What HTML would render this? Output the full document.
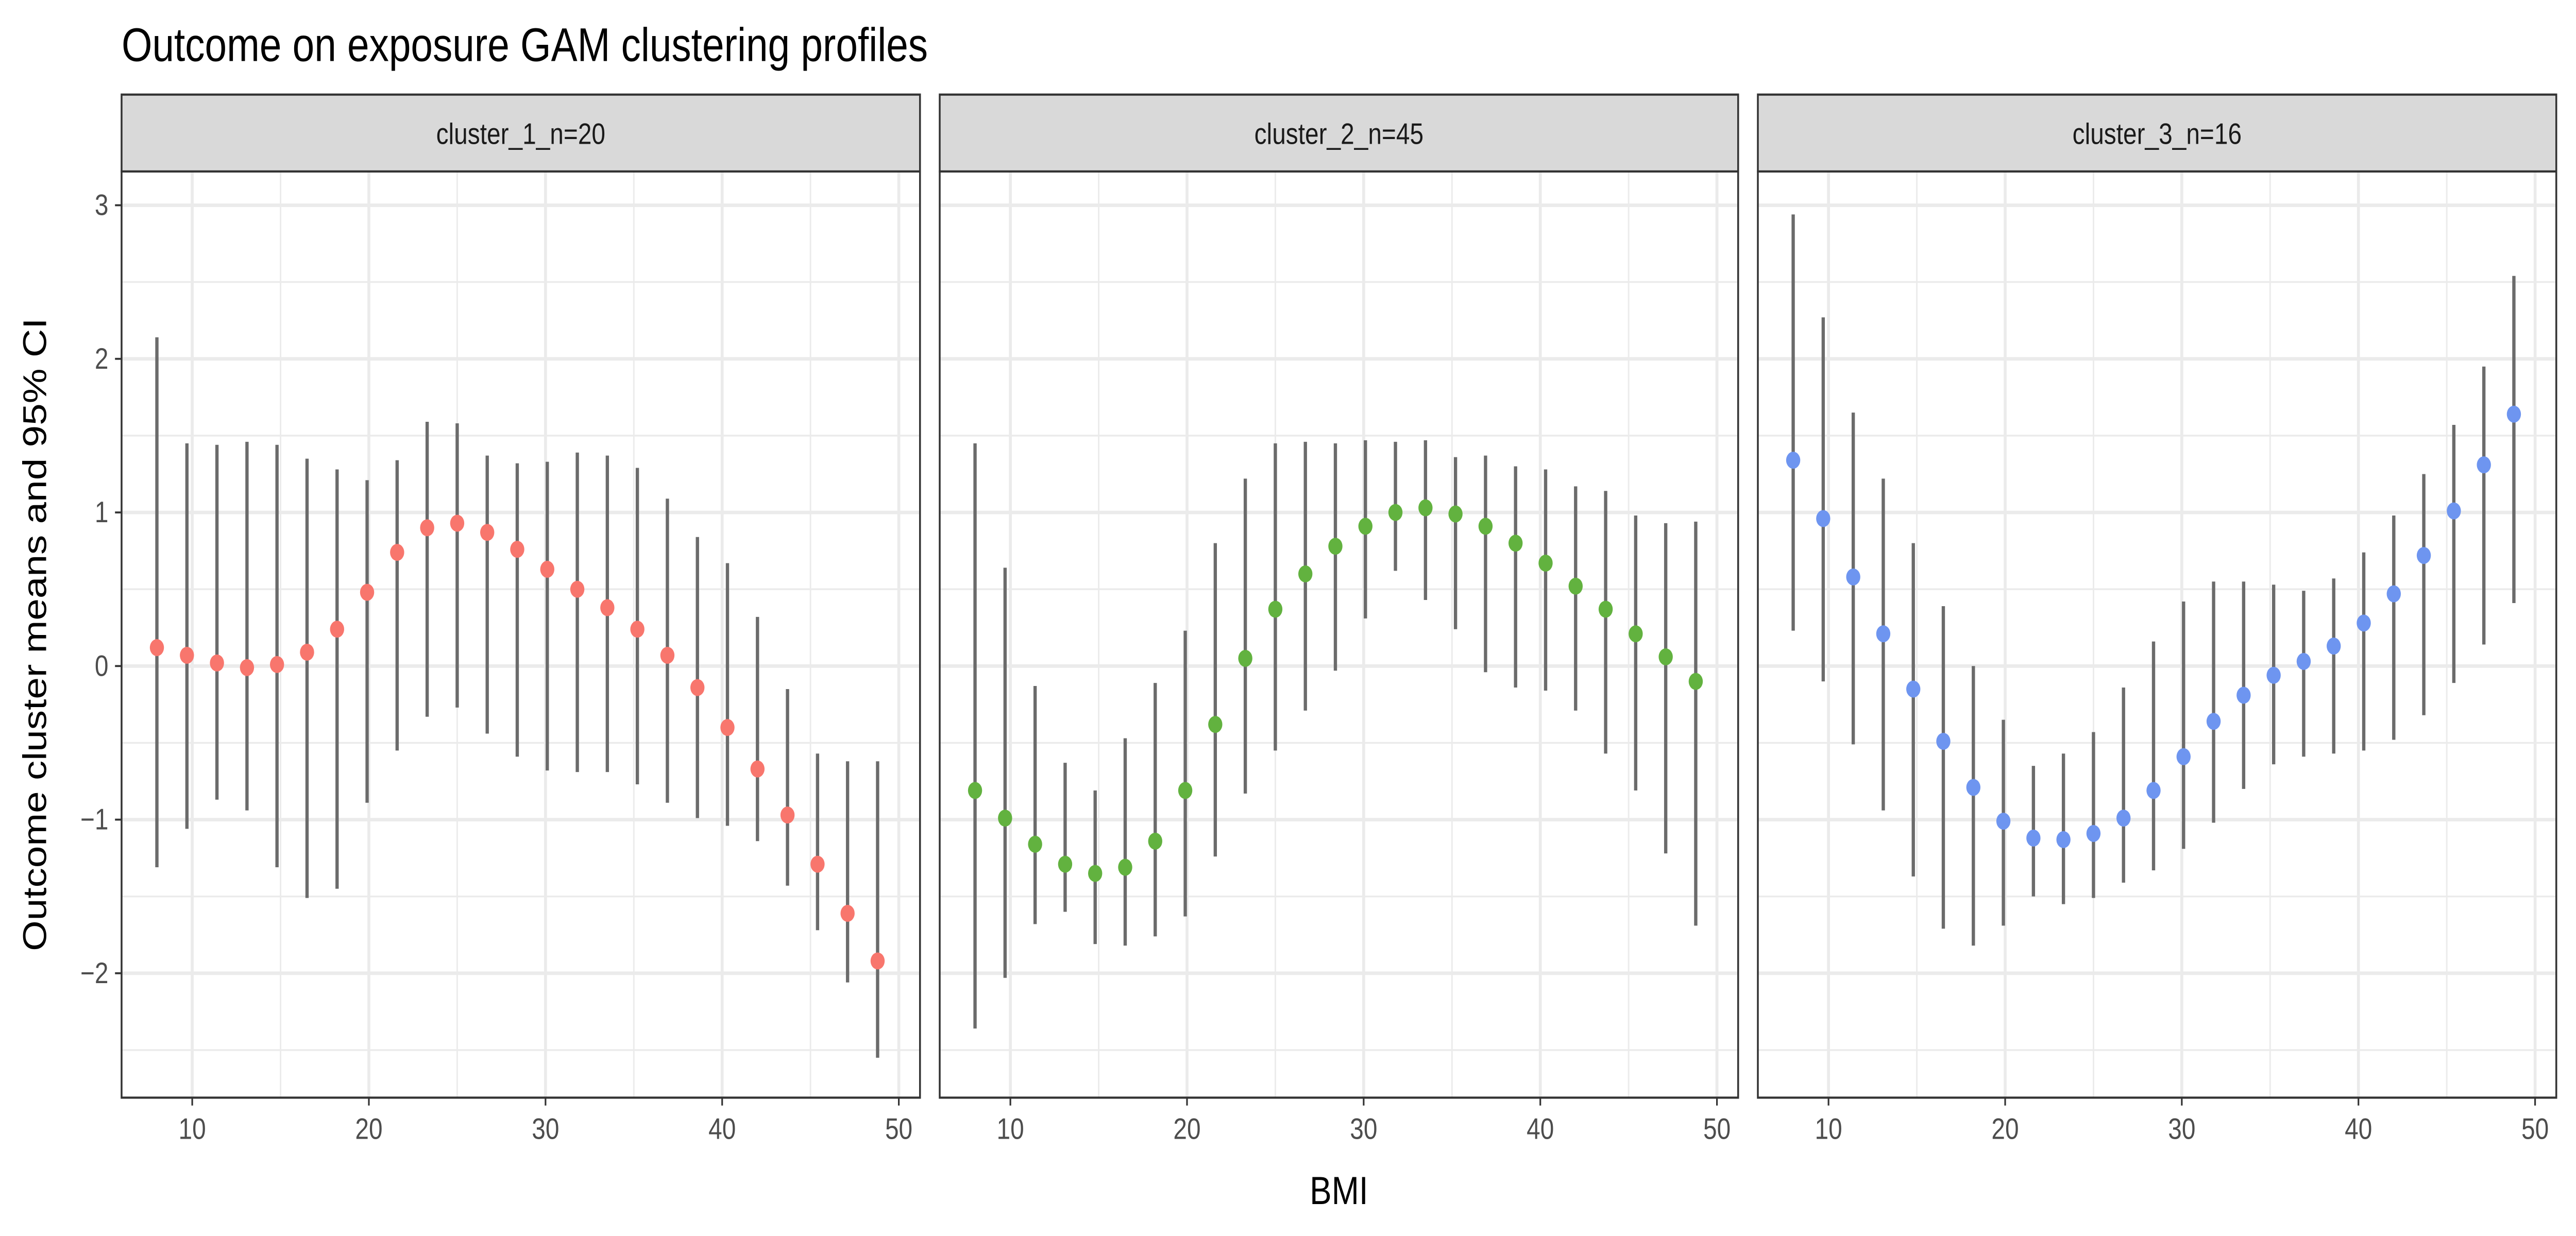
<!DOCTYPE html>
<html><head><meta charset="utf-8"><style>
html,body{margin:0;padding:0;background:#fff;overflow:hidden;width:100vw;height:100vh;}
svg{display:block;width:100vw;height:100vh;font-family:"Liberation Sans",Arial,sans-serif;}
</style></head><body>
<svg id="chart" viewBox="0 0 1568 627.2" preserveAspectRatio="none" xmlns="http://www.w3.org/2000/svg">
<text x="74" y="31" font-size="24" fill="#000">Outcome on exposure GAM clustering profiles</text>
<text transform="translate(28,322) rotate(-90)" text-anchor="middle" font-size="20" fill="#000">Outcome cluster means and 95% CI</text>
<text x="815" y="611" text-anchor="middle" font-size="20" fill="#000">BMI</text>
</svg>
<script>
const panelNames = ["cluster_1_n=20","cluster_2_n=45","cluster_3_n=16"];
const bmi = [8,9.7,11.4,13.1,14.8,16.5,18.2,19.9,21.6,23.3,25,26.7,28.4,30.1,31.8,33.5,35.2,36.9,38.6,40.3,42,43.7,45.4,47.1,48.8];
const mean1 = [0.12,0.07,0.02,-0.01,0.01,0.09,0.24,0.48,0.74,0.90,0.93,0.87,0.76,0.63,0.50,0.38,0.24,0.07,-0.14,-0.40,-0.67,-0.97,-1.29,-1.61,-1.92];
const upper1 = [2.14,1.45,1.44,1.46,1.44,1.35,1.28,1.21,1.34,1.59,1.58,1.37,1.32,1.33,1.39,1.37,1.29,1.09,0.84,0.67,0.32,-0.15,-0.57,-0.62,-0.62];
const lower1 = [-1.31,-1.06,-0.87,-0.94,-1.31,-1.51,-1.45,-0.89,-0.55,-0.33,-0.27,-0.44,-0.59,-0.68,-0.69,-0.69,-0.77,-0.89,-0.99,-1.04,-1.14,-1.43,-1.72,-2.06,-2.55];
const mean2 = [-0.81,-0.99,-1.16,-1.29,-1.35,-1.31,-1.14,-0.81,-0.38,0.05,0.37,0.60,0.78,0.91,1.00,1.03,0.99,0.91,0.80,0.67,0.52,0.37,0.21,0.06,-0.10];
const upper2 = [1.45,0.64,-0.13,-0.63,-0.81,-0.47,-0.11,0.23,0.80,1.22,1.45,1.46,1.45,1.47,1.46,1.47,1.36,1.37,1.30,1.28,1.17,1.14,0.98,0.93,0.94];
const lower2 = [-2.36,-2.03,-1.68,-1.60,-1.81,-1.82,-1.76,-1.63,-1.24,-0.83,-0.55,-0.29,-0.03,0.31,0.62,0.43,0.24,-0.04,-0.14,-0.16,-0.29,-0.57,-0.81,-1.22,-1.69];
const mean3 = [1.34,0.96,0.58,0.21,-0.15,-0.49,-0.79,-1.01,-1.12,-1.13,-1.09,-0.99,-0.81,-0.59,-0.36,-0.19,-0.06,0.03,0.13,0.28,0.47,0.72,1.01,1.31,1.64];
const upper3 = [2.94,2.27,1.65,1.22,0.80,0.39,0.00,-0.35,-0.65,-0.57,-0.43,-0.14,0.16,0.42,0.55,0.55,0.53,0.49,0.57,0.74,0.98,1.25,1.57,1.95,2.54];
const lower3 = [0.23,-0.10,-0.51,-0.94,-1.37,-1.71,-1.82,-1.69,-1.50,-1.55,-1.51,-1.41,-1.33,-1.19,-1.02,-0.80,-0.64,-0.59,-0.57,-0.55,-0.48,-0.32,-0.11,0.14,0.41];
const xTicks = [10,20,30,40,50];
const yTicks = [-2,-1,0,1,2,3];
const colors = ["#F8766D","#62B23F","#6E95F0"];

const NS = "http://www.w3.org/2000/svg";
const svg = document.getElementById("chart");
const panelLeft = [74,572,1070], panelW = 486;
const plotTop = 87, plotBot = 557, stripTop = 48;
const xMin = 6.0, xMax = 51.2, yMin = -2.81, yMax = 3.22;
function xs(p, v){ return panelLeft[p] + (v - xMin) / (xMax - xMin) * panelW; }
function ys(v){ return plotBot - (v - yMin) / (yMax - yMin) * (plotBot - plotTop); }
function mk(tag, attrs, parent){ const e = document.createElementNS(NS, tag); for (const k in attrs) e.setAttribute(k, attrs[k]); (parent || svg).appendChild(e); return e; }

const means = [mean1, mean2, mean3], uppers = [upper1, upper2, upper3], lowers = [lower1, lower2, lower3];

for (let p = 0; p < 3; p++) {
  const L = panelLeft[p], R = L + panelW;
  const g = mk("g", {});
  
  
  for (let i = 0; i < yTicks.length; i++) {
    const v = yTicks[i] - 0.5;
    const gl = mk("line", {x1: L, x2: R, y1: ys(v), y2: ys(v), stroke: "#EBEBEB", "stroke-width": 0.9}, g);
    
    
  }
  for (let i = 0; i < xTicks.length; i++) {
    const v = xTicks[i] - 5;
    if (v > xMin) {
      const gl = mk("line", {x1: xs(p, v), x2: xs(p, v), y1: plotTop, y2: plotBot, stroke: "#EBEBEB", "stroke-width": 0.9}, g);
      
      
    }
  }
  for (let i = 0; i < yTicks.length; i++) {
    const gl = mk("line", {x1: L, x2: R, y1: ys(yTicks[i]), y2: ys(yTicks[i]), stroke: "#EBEBEB", "stroke-width": 1.8}, g);
    
    
  }
  for (let i = 0; i < xTicks.length; i++) {
    const gl = mk("line", {x1: xs(p, xTicks[i]), x2: xs(p, xTicks[i]), y1: plotTop, y2: plotBot, stroke: "#EBEBEB", "stroke-width": 1.8}, g);
    
    
    const tk = mk("line", {x1: xs(p, xTicks[i]), x2: xs(p, xTicks[i]), y1: plotBot, y2: plotBot + 4, stroke: "#333", "stroke-width": 1}, g);
    
    
    const t = mk("text", {x: xs(p, xTicks[i]), y: plotBot + 21, "text-anchor": "middle", "font-size": 15, fill: "#4D4D4D"}, g);
    t.textContent = xTicks[i];
    
    
  }
  for (let i = 0; i < bmi.length; i++) {
    const x = xs(p, bmi[i]);
    const eb = mk("line", {x1: x, x2: x, y1: ys(uppers[p][i]), y2: ys(lowers[p][i]), stroke: "#6B6B6B", "stroke-width": 2}, g);
    
    
  }
  for (let i = 0; i < bmi.length; i++) {
    const pt = mk("circle", {cx: xs(p, bmi[i]), cy: ys(means[p][i]), r: 4.3, fill: colors[p]}, g);
    
    
  }
  const bd = mk("rect", {x: L, y: plotTop, width: panelW, height: plotBot - plotTop, fill: "none", stroke: "#333", "stroke-width": 1.1}, g);
  
  
  const st = mk("rect", {x: L, y: stripTop, width: panelW, height: plotTop - stripTop, fill: "#D9D9D9", stroke: "#333", "stroke-width": 1.1}, g);
  
  
  const stt = mk("text", {x: L + panelW / 2, y: stripTop + 25, "text-anchor": "middle", "font-size": 15, fill: "#1A1A1A"}, g);
  stt.textContent = panelNames[p];
  
  
}
for (let i = 0; i < yTicks.length; i++) {
  const tk = mk("line", {x1: panelLeft[0] - 4, x2: panelLeft[0], y1: ys(yTicks[i]), y2: ys(yTicks[i]), stroke: "#333", "stroke-width": 1});
  
  
  const t = mk("text", {x: panelLeft[0] - 8, y: ys(yTicks[i]) + 5, "text-anchor": "end", "font-size": 15, fill: "#4D4D4D"});
  t.textContent = yTicks[i] < 0 ? "\u2212" + Math.abs(yTicks[i]) : yTicks[i];
  
  
}
</script>
</body></html>
